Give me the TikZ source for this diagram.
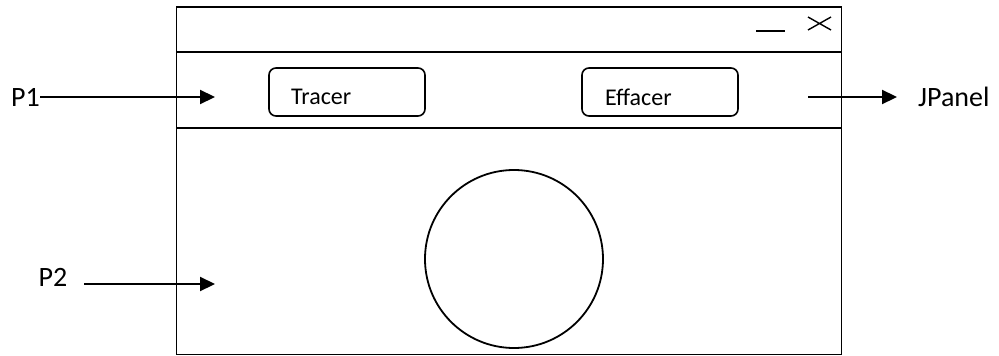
\documentclass[tikz,border=0pt]{standalone}
\usepackage{fontspec}
\setmainfont{Carlito}
\usetikzlibrary{arrows.meta}
\begin{document}
\begin{tikzpicture}[x=1pt,y=-1pt,
  frame/.style={draw=black,line width=1.8pt},
  btn/.style={draw=black,line width=1.6pt,rounded corners=7pt},
  btntext/.style={anchor=west,inner sep=0pt,font=\fontsize{24}{28}\selectfont},
  lbl/.style={inner sep=0pt,font=\fontsize{28}{33}\selectfont},
  pointer/.style={line width=2.2pt,-{Triangle[length=15pt,width=14pt]}}]
\useasboundingbox (0,0) rectangle (999,356);
% window
\draw[frame] (176.5,7) rectangle (841.5,354.5);
\coordinate (tl) at (176.5,52);
\coordinate (tr) at (841.5,52);
\coordinate (pl) at (176.5,128);
\coordinate (pr) at (841.5,128);
\draw[frame] (tl) -- (tr);
\draw[frame] (pl) -- (pr);
% title bar controls
\coordinate (m1) at (756,31);
\coordinate (m2) at (785,31);
\draw[line width=1.5pt] (m1) -- (m2);
\coordinate (x1) at (808,17);
\coordinate (x2) at (831,30);
\coordinate (x3) at (808,30);
\coordinate (x4) at (831,17);
\draw[line width=1.4pt] (x1) -- (x2) (x3) -- (x4);
% buttons
\draw[btn] (269,68) rectangle (425,116);
\node[btntext] (tracer) at (291,97) {Tracer};
\draw[btn] (582,68) rectangle (738,116);
\node[btntext] (effacer) at (605,97) {Effacer};
% circle
\node[draw=black,line width=1.8pt,circle,minimum size=178pt,inner sep=0pt] (circ) at (514,259) {};
% labels and arrows
\node[lbl,anchor=east] (p1) at (40,97) {P1};
\coordinate (p1e) at (215,97);
\draw[pointer] (p1.east) -- (p1e);
\node[lbl,anchor=west] (jp) at (918,97) {JPanel};
\coordinate (jps) at (808,97);
\draw[pointer,shorten >=21pt] (jps) -- (jp.west);
\node[lbl] (p2) at (53,277) {P2};
\coordinate (p2s) at (84,284);
\coordinate (p2e) at (215,284);
\draw[pointer] (p2s) -- (p2e);
\end{tikzpicture}
\end{document}
